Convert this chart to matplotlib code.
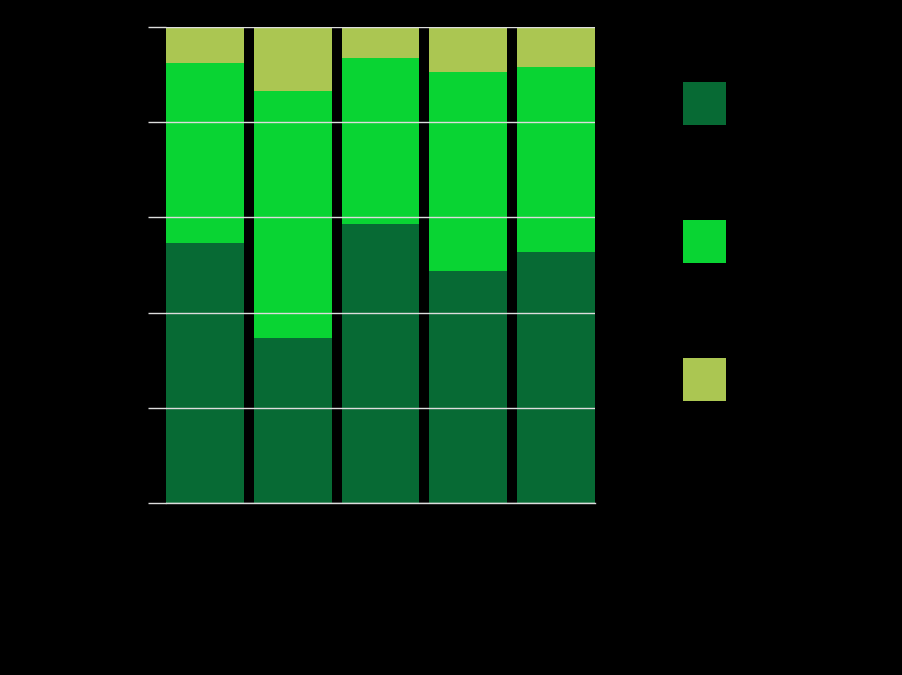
import matplotlib
matplotlib.use("Agg")
import matplotlib.pyplot as plt
import numpy as np

categories = ["Group A", "Group B", "Group C", "Group D", "Group E"]
series_names = ["Series 1", "Series 2", "Series 3"]
series_1 = [54.6, 34.7, 58.6, 48.7, 52.7]
series_2 = [37.8, 51.9, 34.9, 41.8, 38.9]
series_3 = [7.6, 13.4, 6.5, 9.5, 8.4]
y_ticks = [0, 20, 40, 60, 80, 100]
y_tick_labels = ["0%", "20%", "40%", "60%", "80%", "100%"]

colors = ["#076A34", "#09D433", "#ABC652"]

fig = plt.figure(figsize=(9.02, 6.75), dpi=100, facecolor="black")
ax = fig.add_axes([166/902, 1-503/675, (595-166)/902, (503-27)/675])
ax.set_facecolor("black")

x = np.arange(len(categories))
w = 0.886
bottom = np.zeros(len(categories))
handles = []
for vals, col, name in zip([series_1, series_2, series_3], colors, series_names):
    h = ax.bar(x, vals, width=w, bottom=bottom, color=col, label=name, linewidth=0)
    handles.append(h)
    bottom += np.array(vals)

ax.set_xlim(-w/2, len(categories)-1+w/2)
ax.set_ylim(0, 100)
ax.set_yticks(y_ticks)
ax.set_yticklabels(y_tick_labels, color="black", fontsize=11)
ax.set_xticks(x)
ax.set_xticklabels(categories, color="black", fontsize=11, rotation=90)
ax.tick_params(axis="y", length=13, color="#dddddd", width=1)
ax.tick_params(axis="x", length=0)
ax.grid(axis="y", color="#dddddd", linewidth=1)
ax.set_axisbelow(False)
ax.axhline(0, color="#dddddd", linewidth=1, clip_on=False, zorder=3)
for s in ax.spines.values():
    s.set_visible(False)

fig.legend(handles=handles, labels=series_names, loc="upper left",
           bbox_to_anchor=(683/902, 1-82/675), frameon=False,
           fontsize=14, handlelength=2.21, handleheight=3.023,
           labelspacing=4.89, borderpad=0, borderaxespad=0,
           handletextpad=0.6, labelcolor="black")

fig.savefig("out.png", dpi=100, facecolor="black")
